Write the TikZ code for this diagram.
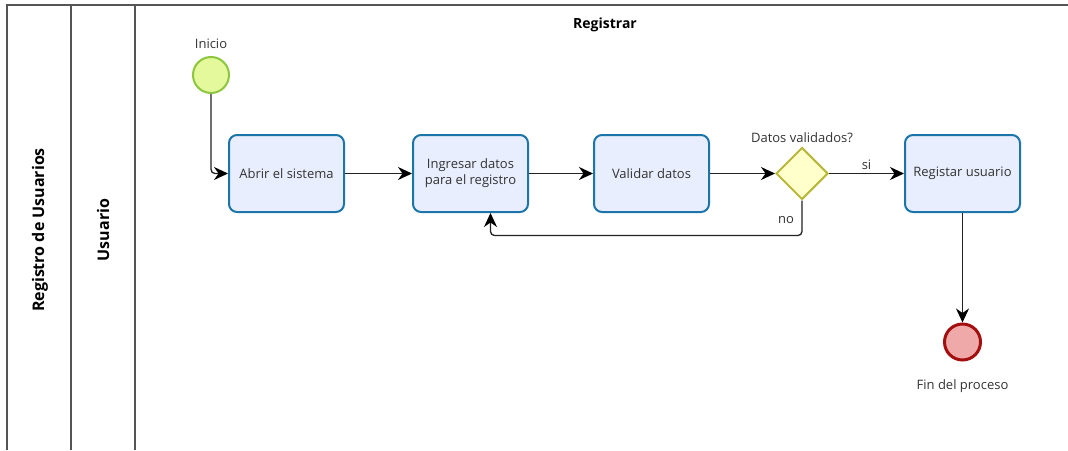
\documentclass[tikz,border=0pt]{standalone}
\usepackage{fontspec}
\setmainfont{Open Sans}
\usetikzlibrary{arrows.meta,positioning,shapes.geometric}

\definecolor{taskfill}{HTML}{E8EEFD}
\definecolor{taskdraw}{HTML}{1C75A8}
\definecolor{startfill}{HTML}{E4F99B}
\definecolor{startdraw}{HTML}{8DC63F}
\definecolor{endfill}{HTML}{F0A9A9}
\definecolor{enddraw}{HTML}{A30F0F}
\definecolor{gatefill}{HTML}{FFFFCC}
\definecolor{gatedraw}{HTML}{B8B83C}
\definecolor{flowline}{HTML}{222222}
\definecolor{lanedraw}{HTML}{555555}

\begin{document}
\begin{tikzpicture}[x=1pt,y=-1pt,>={Stealth[length=14pt,width=13pt,inset=4.5pt,color=black]}]
    \tikzset{
      task/.style={
        draw=taskdraw,
        fill=taskfill,
        line width=2pt,
        rounded corners=8pt,
        align=center,
        text=black!80,
        font=\fontsize{13}{16}\selectfont,
        minimum width=115pt,
        minimum height=77pt
      },
      event/.style={circle, minimum size=36pt, inner sep=0pt},
      gateway/.style={
        diamond,
        draw=gatedraw,
        fill=gatefill,
        line width=2pt,
        minimum width=52pt,
        minimum height=52pt,
        inner sep=0pt
      },
      caption/.style={text=black!80, font=\fontsize{13}{15}\selectfont},
      lanetitle/.style={font=\bfseries\fontsize{16}{18}\selectfont},
      lane/.style={draw=lanedraw, line width=1.3pt},
      flow/.style={draw=flowline, line width=1.3pt, ->}
    };

    \useasboundingbox (0,0) rectangle (1068,450);

    % pool and lane
    \draw[lane] (7,450) -- (7,5) -- (1068,5);
    \draw[lane] (71,5) -- (71,450);
    \draw[lane] (135,5) -- (135,450);
    \node[lanetitle, rotate=90] (pool) at (40,230) {Registro de Usuarios};
    \node[lanetitle, rotate=90] (actor) at (103,230) {Usuario};
    \node[font=\bfseries\fontsize{14}{16}\selectfont] (registrar) at (605,25) {Registrar};

    % events, tasks, gateway
    \node[event, draw=startdraw, fill=startfill, line width=2pt] (inicio) at (211,75) {};
    \node[caption, above=4pt of inicio] (inicioText) {Inicio};
    \node[task] (abrir) at (286.5,173.5) {Abrir el sistema};
    \node[task, right=67pt of abrir] (ingresar) {Ingresar datos\\para el registro};
    \node[task, right=64pt of ingresar] (validar) {Validar datos};
    \node[gateway, right=65pt of validar] (validados) {};
    \node[caption, above=0pt of validados] (validadosText) {Datos validados?};
    \node[task, right=75pt of validados] (registar) {Registar usuario};
    \node[event, draw=enddraw, fill=endfill, line width=3pt, below=109.5pt of registar] (fin) {};
    \node[caption, below=15pt of fin] (finText) {Fin del proceso};

    % sequence flows
    \draw[flow, rounded corners=4pt] (inicio) |- (abrir);
    \draw[flow] (abrir) -- (ingresar);
    \draw[flow] (ingresar) -- (validar);
    \draw[flow] (validar) -- (validados);
    \draw[flow] (validados) -- node[caption, above] (si) {si} (registar);
    \draw[flow, rounded corners=4pt] (validados.south) -- ++(0,35)
      node[caption, pos=0.55, left=4pt] (no) {no}
      -| ([xshift=20pt]ingresar.south);
    \draw[flow] (registar) -- (fin);
\end{tikzpicture}
\end{document}
